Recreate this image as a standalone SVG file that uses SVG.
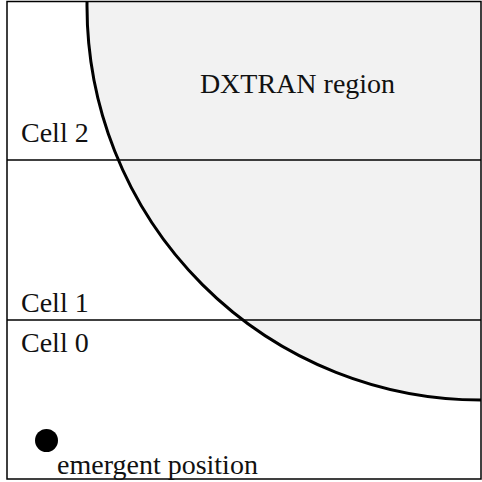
<svg xmlns="http://www.w3.org/2000/svg" width="482" height="482" viewBox="0 0 482 482">
<style>
.lbl{font-family:"Liberation Serif","DejaVu Serif",serif;font-size:28px;fill:#111}
.ln{stroke:#000;stroke-width:1.5;fill:none}
</style>
<defs><clipPath id="box"><rect x="7" y="1.5" width="474" height="477.5"/></clipPath></defs>
<rect x="0" y="0" width="482" height="482" fill="#fff"/>
<g id="dxtran" clip-path="url(#box)">
<circle cx="481" cy="6" r="394" fill="#f2f2f2" stroke="#000" stroke-width="3"/>
</g>
<g id="connectors">
<line class="ln" x1="7" y1="160" x2="481" y2="160"/>
<line class="ln" x1="7" y1="320" x2="481" y2="320"/>
</g>
<g id="frame"><rect class="ln" x="7" y="1.5" width="474" height="477.5"/></g>
<g id="labels">
<text class="lbl" x="21" y="142">Cell 2</text>
<text class="lbl" x="21" y="312">Cell 1</text>
<text class="lbl" x="21" y="352">Cell 0</text>
<text class="lbl" x="297.5" y="93" text-anchor="middle">DXTRAN region</text>
</g>
<g id="emergent">
<circle cx="46.5" cy="440.5" r="11.5" fill="#000"/>
<text class="lbl" x="57" y="474">emergent position</text>
</g>
</svg>
